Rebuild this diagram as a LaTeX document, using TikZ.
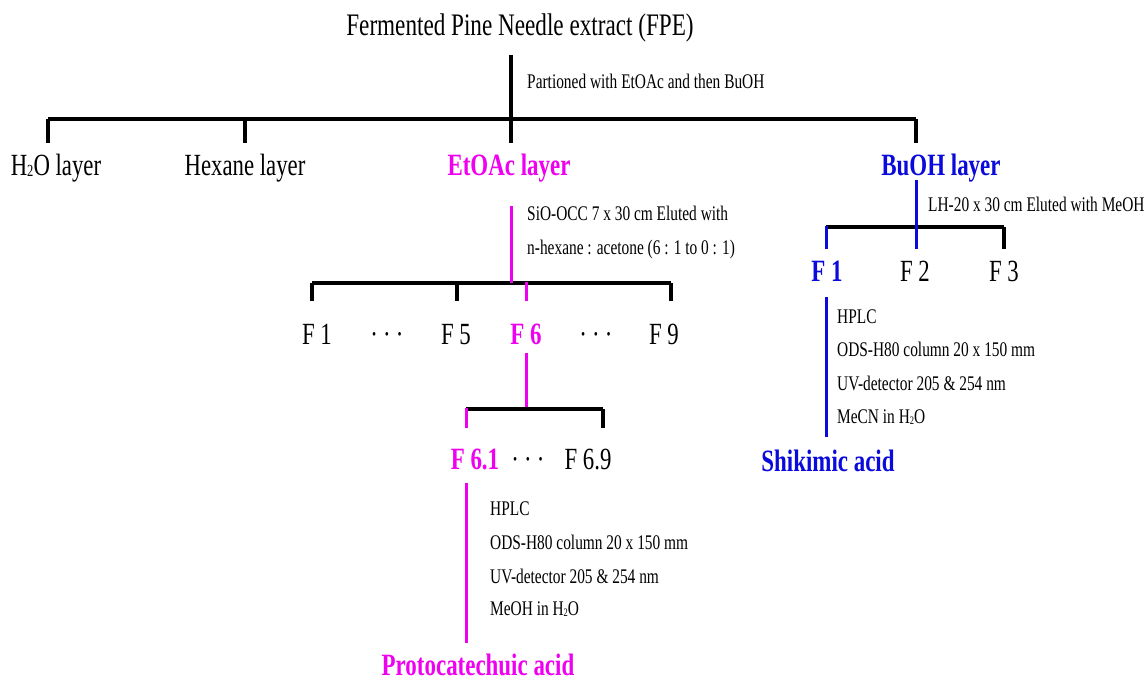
\documentclass[tikz,border=0pt]{standalone}
\usepackage{fontspec}
\usepackage{graphicx}
\setmainfont{Liberation Serif}[FakeStretch=0.74]
\definecolor{mag}{RGB}{240,0,240}
\definecolor{blu}{RGB}{10,10,220}
\newcommand{\subtwo}{\raisebox{-0.06em}{\scalebox{0.55}{2}}}
\tikzset{
  lbl/.style={inner sep=0pt, anchor=base},
  lblw/.style={inner sep=0pt, anchor=base west},
  ttl/.style={font=\fontsize{31.3}{33}\selectfont},
  big/.style={font=\fontsize{30.8}{32}\selectfont},
  bigb/.style={font=\fontsize{31}{32}\selectfont\bfseries},
  sml/.style={font=\fontsize{20.8}{22}\selectfont},
  blk/.style={line width=3.2pt, black},
  pk/.style={line width=3pt, mag},
  bl/.style={line width=3pt, blu},
}
\begin{document}
\begin{tikzpicture}[x=1pt,y=-1pt]
\useasboundingbox (0,0) rectangle (1148,683);
% texts
\node[lbl,ttl] (fpe) at (520,35) {Fermented Pine Needle extract (FPE)};
\node[lblw,sml] (part) at (527,88) {Partioned with EtOAc and then BuOH};
\node[lbl,big] (h2o) at (56,175) {H\subtwo O layer};
\node[lbl,big] (hex) at (245,175) {Hexane layer};
\node[lbl,bigb,text=mag] (etoac) at (509,175) {EtOAc layer};
\node[lbl,bigb,text=blu] (buoh) at (941,175) {BuOH layer};
\node[lblw,sml] (lh) at (928,211) {LH-20 x 30 cm Eluted with MeOH};
\node[lblw,sml] (sio) at (527,220) {SiO-OCC 7 x 30 cm Eluted with};
\node[lblw,sml] (nhex) at (527,254) {n-hexane : acetone (6 : 1 to 0 : 1)};
% EtOAc fractions
\node[lbl,big] (ef1) at (317,344) {F 1};
\node[lbl,big] (edots1) at (387,344) {·\,·\,·};
\node[lbl,big] (ef5) at (456,344) {F 5};
\node[lbl,bigb,text=mag] (ef6) at (526,344) {F 6};
\node[lbl,big] (edots2) at (596,344) {·\,·\,·};
\node[lbl,big] (ef9) at (664,344) {F 9};
% BuOH fractions
\node[lbl,bigb,text=blu] (bf1) at (827,281) {F 1};
\node[lbl,big] (bf2) at (915,281) {F 2};
\node[lbl,big] (bf3) at (1004,281) {F 3};
% F6 subfractions
\node[lbl,bigb,text=mag] (f61) at (475,469) {F 6.1};
\node[lbl,big] (fdots) at (528,469) {·\,·\,·};
\node[lbl,big] (f69) at (588,469) {F 6.9};
% HPLC lists
\node[lblw,sml] (b1) at (837,323) {HPLC};
\node[lblw,sml] (b2) at (837,356) {ODS-H80 column 20 x 150 mm};
\node[lblw,sml] (b3) at (837,390) {UV-detector 205 \& 254 nm};
\node[lblw,sml] (b4) at (837,423) {MeCN in H\subtwo O};
\node[lbl,bigb,text=blu] (shik) at (828,471) {Shikimic acid};
\node[lblw,sml] (p1) at (490,515) {HPLC};
\node[lblw,sml] (p2) at (490,549) {ODS-H80 column 20 x 150 mm};
\node[lblw,sml] (p3) at (490,583) {UV-detector 205 \& 254 nm};
\node[lblw,sml] (p4) at (490,615) {MeOH in H\subtwo O};
\node[lbl,bigb,text=mag] (proto) at (478,675) {Protocatechuic acid};
% junction coordinates
\coordinate (t0) at (511,55);
\coordinate (tj) at (511,119);
\coordinate (tl) at (48,119);
\coordinate (tr) at (916,119);
\coordinate (th) at (245,119);
\coordinate (d1) at (48,143);
\coordinate (d2) at (245,143);
\coordinate (d3) at (511,143);
\coordinate (d4) at (916,143);
% EtOAc branch
\coordinate (e0) at (511,206);
\coordinate (ej) at (511,283);
\coordinate (el) at (312,283);
\coordinate (er) at (671,283);
\coordinate (e5) at (457,283);
\coordinate (e6) at (526,283);
\coordinate (el2) at (312,301);
\coordinate (e52) at (457,301);
\coordinate (e62) at (526,301);
\coordinate (er2) at (671,301);
\coordinate (g0) at (526,353);
\coordinate (gj) at (526,409);
\coordinate (gl) at (466,409);
\coordinate (gr) at (603,409);
\coordinate (gl2) at (466,428);
\coordinate (gr2) at (603,428);
\coordinate (h0) at (466,483);
\coordinate (h1) at (466,643);
% BuOH branch
\coordinate (b0) at (916,180);
\coordinate (bj) at (916,227);
\coordinate (bl) at (826,227);
\coordinate (br) at (1004,227);
\coordinate (bm2) at (916,249);
\coordinate (bl2) at (826,249);
\coordinate (br2) at (1004,249);
\coordinate (k0) at (826,297);
\coordinate (k1) at (826,437);
% lines
\draw[blk] (t0) -- (tj);
\draw[blk] (tl) -- (tr);
\draw[blk] (tl) -- (d1);
\draw[blk] (th) -- (d2);
\draw[blk] (tj) -- (d3);
\draw[blk] (tr) -- (d4);
\draw[blk] (el) -- (er);
\draw[blk] (el) -- (el2);
\draw[blk] (e5) -- (e52);
\draw[blk] (er) -- (er2);
\draw[pk] (e0) -- (ej);
\draw[pk] ([yshift=1.5pt]e6) -- (e62);
\draw[pk] (g0) -- (gj);
\draw[blk] (gl) -- (gr);
\draw[blk] (gr) -- (gr2);
\draw[pk] ([yshift=1.5pt]gl) -- (gl2);
\draw[pk] (h0) -- (h1);
\draw[blk] (bl) -- (br);
\draw[blk] (br) -- (br2);
\draw[bl] (b0) -- (bm2);
\draw[bl] ([yshift=1.5pt]bl) -- (bl2);
\draw[bl] (k0) -- (k1);
\end{tikzpicture}
\end{document}
